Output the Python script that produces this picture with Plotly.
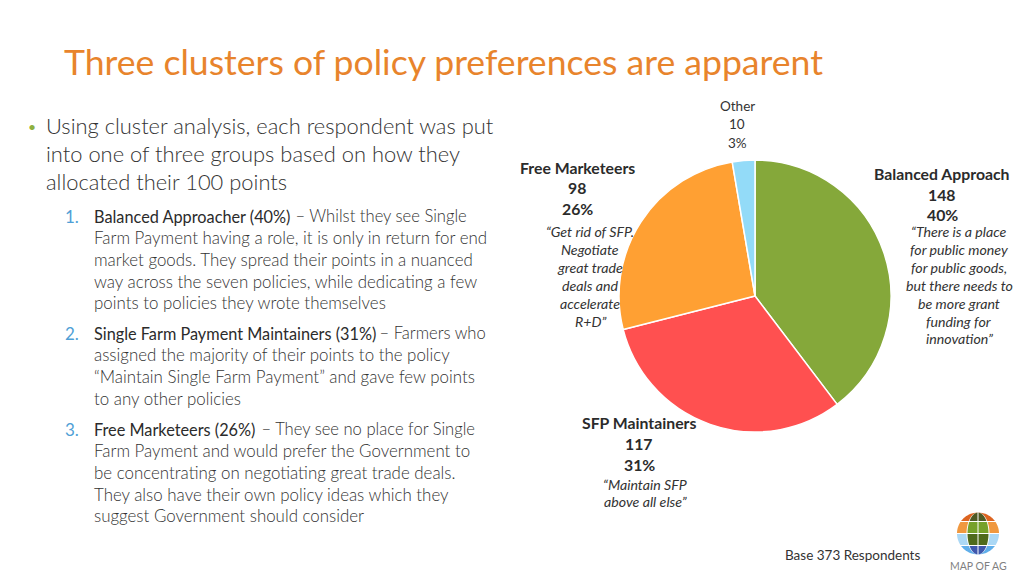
import numpy as np
import plotly.graph_objects as go

W, H = 1024, 576
FONT = "Lato"
LIGHT = "Lato Light, Lato"
TEXT = "#333333"
DARK = "#2b2b2b"

# pie data
labels = ["Balanced Approach", "SFP Maintainers", "Free Marketeers", "Other"]
values = [148, 117, 98, 10]
percents = ["40%", "31%", "26%", "3%"]
colors = ["#85A83A", "#FF5050", "#FFA033", "#93DBF8"]

title = "Three clusters of policy preferences are apparent"
intro = ["Using cluster analysis, each respondent was put",
         "into one of three groups based on how they",
         "allocated their 100 points"]
group_names = ["Balanced Approacher (40%)", "Single Farm Payment Maintainers (31%)", "Free Marketeers (26%)"]
group_first = [" – Whilst they see Single", " – Farmers who", " – They see no place for Single"]
group_rest = [["Farm Payment having a role, it is only in return for end",
               "market goods. They spread their points in a nuanced",
               "way across the seven policies, while dedicating a few",
               "points to policies they wrote themselves"],
              ["assigned the majority of their points to the policy",
               "“Maintain Single Farm Payment” and gave few points",
               "to any other policies"],
              ["Farm Payment and would prefer the Government to",
               "be concentrating on negotiating great trade deals.",
               "They also have their own policy ideas which they",
               "suggest Government should consider"]]
quote_balanced = ["“There is a place", "for public money", "for public goods,", "but there needs to",
                  "be more grant", "funding for", "innovation”"]
quote_sfp = ["“Maintain SFP", "above all else”"]
quote_free = ["“Get rid of SFP.", "Negotiate", "great trade", "deals and", "accelerate", "R+D”"]
footer = "Base 373 Respondents"
logo_name = "MAP OF AG"


def px(x):
    return x / W


def py(y):
    return 1 - y / H


annotations = []


def add_text(x, y, text, size, color=TEXT, family=FONT, anchor="left"):
    annotations.append(dict(x=px(x), y=py(y), xref="paper", yref="paper", text=text, showarrow=False,
                            xanchor=anchor, yanchor="middle", align=anchor,
                            font=dict(size=size, color=color, family=family)))


add_text(62, 62, title, 35.6, "#E8842C", FONT)

# left column
add_text(26, 126, "•", 14, "#8DB040")
for line, y in zip(intro, [125.5, 153.5, 181.5]):
    add_text(44, y, line, 21.9, TEXT, LIGHT)

name_y = [216.3, 333.3, 429.3]
rest_y = [[237.3, 259.3, 281.3, 302.3], [354.3, 376.3, 398.3], [450.3, 472.3, 494.3, 515.3]]
first_x = [288.5, 372.5, 254.5]
for i in range(3):
    add_text(63, name_y[i], str(i + 1) + ".", 17, "#4F9FD6", FONT)
    add_text(92, name_y[i], group_names[i], 16.3, DARK, FONT)
    add_text(first_x[i], name_y[i], group_first[i], 16.6, TEXT, LIGHT)
    for line, y in zip(group_rest[i], rest_y[i]):
        add_text(92, y, line, 16.9, TEXT, LIGHT)

# labels around the pie
label_x = [942, 639, 577, 737]
label_y = [[173, 194, 214.5], [422, 443, 464], [167, 188, 208], [106, 124, 143]]
for i in range(4):
    rows = [labels[i], str(values[i]), percents[i]]
    for row, y in zip(rows, label_y[i]):
        if i == 3:
            add_text(label_x[i], y, row, 13.5, TEXT, FONT, "center")
        else:
            add_text(label_x[i], y, "<b>" + row + "</b>", 15.8, DARK, FONT, "center")

for lines, x, y0 in [(quote_balanced, 959, 231.5), (quote_free, 590, 231.5), (quote_sfp, 645, 484)]:
    for j, line in enumerate(lines):
        add_text(x, y0 + j * 17.9, "<i>" + line + "</i>", 14.2, TEXT, FONT, "center")

add_text(783, 555, footer, 13.5, TEXT, FONT)
add_text(978, 566, logo_name, 10.5, "#7f7f7f", FONT, "center")

# logo: globe bands cut by a central lens, drawn as paper shapes
cx, cy, r, lens = 978, 533.5, 21, 10.5


def band_path(y0, y1, rx):
    ys = np.linspace(y0, y1, 20)
    half = rx * np.sqrt(np.clip(1 - ((ys - cy) / r) ** 2, 0, 1))
    pts = [(cx + h, y) for h, y in zip(half, ys)] + [(cx - h, y) for h, y in zip(half[::-1], ys[::-1])]
    return "M" + " L".join(f"{px(a):.5f},{py(b):.5f}" for a, b in pts) + " Z"


shapes = []
bands = [(512.5, 521, "#DD6420", "#4E5A24"), (522, 533, "#F0983F", "#76A12A"),
         (534, 545, "#ABD8F5", "#4F6A1C"), (546, 554.5, "#5FAEEA", "#3F57AD")]
for y0, y1, outer, inner in bands:
    shapes.append(dict(type="path", xref="paper", yref="paper", path=band_path(y0, y1, r),
                       fillcolor=outer, line=dict(width=0), layer="above"))
    shapes.append(dict(type="path", xref="paper", yref="paper", path=band_path(y0, y1, lens + 1),
                       fillcolor="white", line=dict(width=0), layer="above"))
    shapes.append(dict(type="path", xref="paper", yref="paper", path=band_path(y0, y1, lens),
                       fillcolor=inner, line=dict(width=0), layer="above"))
shapes.append(dict(type="line", xref="paper", yref="paper", x0=px(cx), x1=px(cx), y0=py(512), y1=py(555),
                   line=dict(color="white", width=1), layer="above"))

fig = go.Figure(go.Pie(
    labels=labels,
    values=values,
    sort=False,
    direction="clockwise",
    rotation=0,
    textinfo="none",
    hoverinfo="label+value+percent",
    marker=dict(colors=colors, line=dict(color="white", width=1.5)),
    domain=dict(x=[px(619), px(891)], y=[py(432), py(160)]),
    showlegend=False,
))

fig.update_layout(
    width=W,
    height=H,
    autosize=False,
    margin=dict(l=0, r=0, t=0, b=0),
    paper_bgcolor="white",
    plot_bgcolor="white",
    annotations=annotations,
    shapes=shapes,
)

fig.write_html("out.html", config=dict(displayModeBar=False), post_script="document.body.style.margin='0';")
